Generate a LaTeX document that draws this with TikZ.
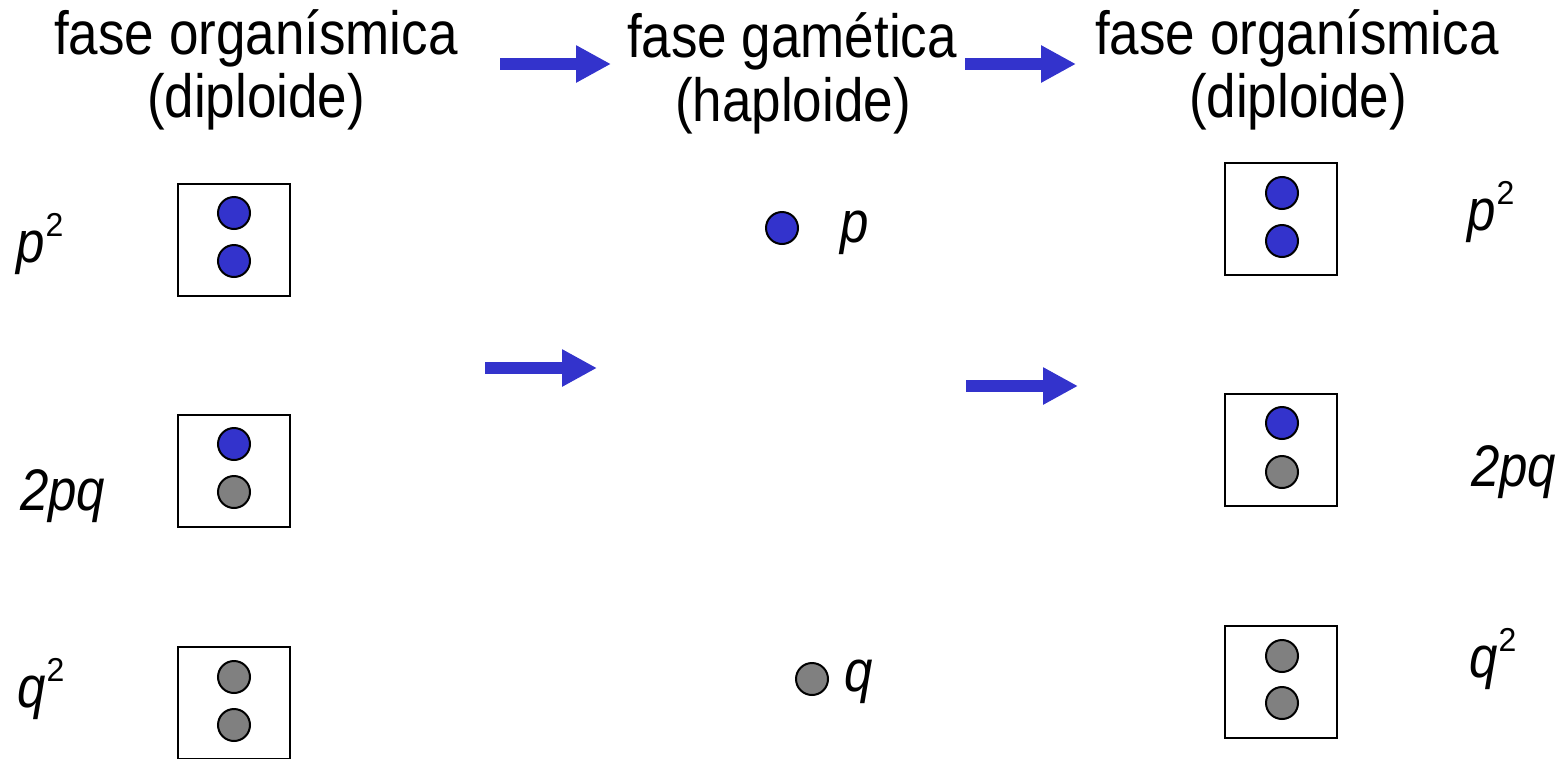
\documentclass[tikz,border=0pt]{standalone}
\usepackage{fontspec}
\usepackage{graphicx}
\setmainfont{Liberation Sans}
\usetikzlibrary{arrows.meta}
\definecolor{dotblue}{RGB}{51,51,204}
\definecolor{dotgray}{RGB}{128,128,128}
\tikzset{
  title/.style={inner sep=0pt, anchor=base, font=\fontsize{53}{65}\selectfont},
  lab/.style={inner sep=0pt, anchor=base west, font=\fontsize{51}{60}\selectfont\itshape},
  cellbox/.style={draw=black, line width=2pt, minimum width=112pt, minimum height=112pt, inner sep=0pt},
  bdot/.style={circle, draw=black, line width=2pt, fill=dotblue, minimum size=32pt, inner sep=0pt},
  gdot/.style={circle, draw=black, line width=2pt, fill=dotgray, minimum size=32pt, inner sep=0pt},
  bigarrow/.style={draw=dotblue, line width=12pt, line cap=butt, -{Triangle[width=35pt,length=35pt]}}
}
\newcommand{\vs}[1]{\scalebox{1}[1.15]{#1}}
\newcommand{\sq}{\hspace{1pt}\raisebox{0.44em}{\scalebox{1}[0.9]{\fontsize{32}{38}\selectfont\upshape 2}}}
\begin{document}
\begin{tikzpicture}[x=1pt,y=-1pt]
\useasboundingbox (0,0) rectangle (1565,758);
\clip (0,0) rectangle (1565,758);
% titles
\node[title] (t1a) at (256,54) {\vs{fase organísmica}};
\node[title] (t1b) at (256,117) {\vs{(diploide)}};
\node[title] (t2a) at (792,57) {\vs{fase gamética}};
\node[title] (t2b) at (793,121) {\vs{(haploide)}};
\node[title] (t3a) at (1297,54) {\vs{fase organísmica}};
\node[title] (t3b) at (1298,117) {\vs{(diploide)}};
% arrows
\coordinate (a1s) at (500,64); \coordinate (a1e) at (611,64);
\coordinate (a2s) at (965,64); \coordinate (a2e) at (1076,64);
\coordinate (a3s) at (485,368); \coordinate (a3e) at (597,368);
\coordinate (a4s) at (966,386); \coordinate (a4e) at (1078,386);
\draw[bigarrow] (a1s) -- (a1e);
\draw[bigarrow] (a2s) -- (a2e);
\draw[bigarrow] (a3s) -- (a3e);
\draw[bigarrow] (a4s) -- (a4e);
% left column
\node[cellbox] (L1) at (234,240) {};
\node[bdot] (L1a) at (234,213) {};
\node[bdot] (L1b) at (234,261) {};
\node[cellbox] (L2) at (234,471) {};
\node[bdot] (L2a) at (234,444) {};
\node[gdot] (L2b) at (234,492) {};
\node[cellbox] (L3) at (234,703) {};
\node[gdot] (L3a) at (234,677) {};
\node[gdot] (L3b) at (234,725) {};
\node[lab] (lp) at (16,262) {\vs{p\sq}};
\node[lab] (lpq) at (20,510) {\vs{2pq}};
\node[lab] (lq) at (17,707) {\vs{q\sq}};
% middle column
\node[bdot] (Mp) at (782,228) {};
\node[lab] (mp) at (840,242) {\vs{p}};
\node[gdot] (Mq) at (812,679) {};
\node[lab] (mq) at (844,691) {\vs{q}};
% right column
\node[cellbox] (R1) at (1281,219) {};
\node[bdot] (R1a) at (1282,193) {};
\node[bdot] (R1b) at (1282,241) {};
\node[cellbox] (R2) at (1281,450) {};
\node[bdot] (R2a) at (1282,423) {};
\node[gdot] (R2b) at (1282,472) {};
\node[cellbox] (R3) at (1281,682) {};
\node[gdot] (R3a) at (1282,656) {};
\node[gdot] (R3b) at (1282,703) {};
\node[lab] (rp) at (1467,230) {\vs{p\sq}};
\node[lab] (rpq) at (1471,486) {\vs{2pq}};
\node[lab] (rq) at (1469,677) {\vs{q\sq}};
\end{tikzpicture}
\end{document}
